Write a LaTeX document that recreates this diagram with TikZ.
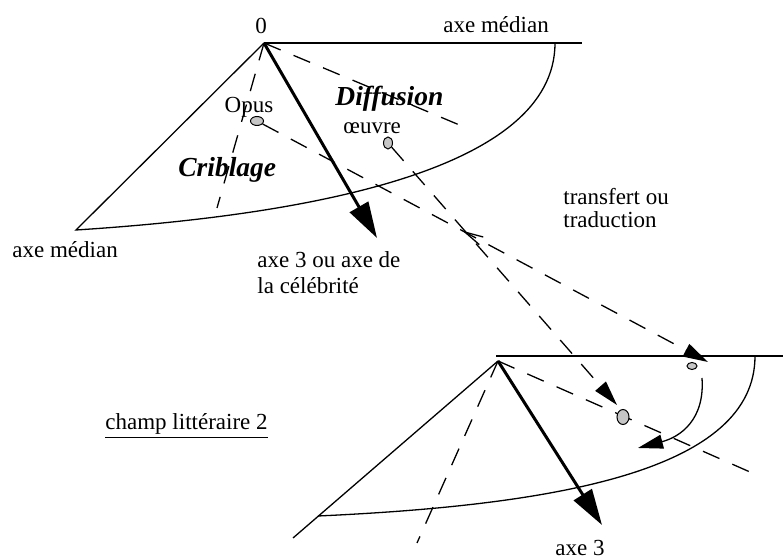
\documentclass[tikz,border=0pt]{standalone}
\usepackage{fontspec}
\setmainfont{Liberation Serif}
\usetikzlibrary{arrows.meta, shapes.geometric, calc}

\begin{document}
\begin{tikzpicture}[
  x=0.5pt, y=-0.5pt,
  font=\fontsize{11.5}{13}\selectfont,
  trait/.style={draw=black, line width=0.65pt},
  pointille/.style={draw=black, line width=0.65pt, dash pattern=on 9pt off 7pt},
  axe/.style={draw=black, line width=1.5pt, -{Triangle[length=18pt, width=10.5pt]}},
  transfert/.style={pointille, -{Triangle[length=12.5pt, width=7pt]}},
  point/.style={ellipse, draw=black, fill=gray!45, line width=0.5pt, inner sep=0pt},
  etiquette/.style={inner sep=0pt, anchor=base west},
  force/.style={inner sep=0pt, anchor=base west, font=\fontsize{13.75}{16}\selectfont\bfseries\itshape}
]
\useasboundingbox (0,0) rectangle (783,560);

%--------------------------------------------------------------
% Champ littéraire 1
%--------------------------------------------------------------
\coordinate (O1) at (264,43);
\coordinate (med1) at (582,43);
\coordinate (arc1) at (555,43);
\coordinate (gauche1) at (76,230);
\coordinate (cel1) at (377,238);
\coordinate (crib1) at (217,208);
\coordinate (diff1) at (469,129);

\draw[trait] (O1) -- (med1);
\draw[trait] (arc1) .. controls (555,170) and (310,215) .. (gauche1) -- (O1);
\draw[pointille] (O1) -- (crib1);
\draw[pointille] (O1) -- (diff1);
\draw[axe] (O1) -- (cel1);

\node[point, minimum width=6.5pt, minimum height=4.5pt] (opus) at (257,121) {};
\node[point, minimum width=4.5pt, minimum height=6pt] (oeuvre) at (388,143) {};

\node[inner sep=0pt, anchor=base] (zero) at (261,34) {0};
\node[etiquette] (medianH) at (443,33) {axe médian};
\node[etiquette] (medianG) at (12,258) {axe médian};
\node[inner sep=0pt, anchor=base] (lopus) at (249,113) {Opus};
\node[etiquette] (loeuvre) at (343,134) {œuvre};
\node[force] (diffusion) at (335,106) {Diffusion};
\node[force] (criblage) at (178,177) {Criblage};
\node[etiquette] (axe3a) at (257,268) {axe 3 ou axe de};
\node[etiquette] (axe3b) at (257,294) {la célébrité};

%--------------------------------------------------------------
% Champ littéraire 2
%--------------------------------------------------------------
\coordinate (O2) at (498,361);
\coordinate (debut2) at (496,356);
\coordinate (med2) at (783,356);
\coordinate (arc2) at (755,356);
\coordinate (gauche2) at (318,516);
\coordinate (bout2) at (293,538);
\coordinate (cel2) at (602,525);
\coordinate (crib2) at (417,543);
\coordinate (diff2) at (750,472);

\draw[trait] (debut2) -- (med2);
\draw[trait] (arc2) .. controls (755,470) and (560,505) .. (gauche2);
\draw[trait] (bout2) -- (O2);
\draw[pointille] (O2) -- (crib2);
\draw[pointille] (O2) -- (diff2);
\draw[axe] (O2) -- (cel2);

\node[point, minimum width=5pt, minimum height=3.5pt] (opus2) at (692,366) {};
\node[point, minimum width=6pt, minimum height=7.5pt] (oeuvre2) at (623,417) {};

% déplacement dans le champ 2
\coordinate (dep1) at (702,378);
\coordinate (dep2) at (638,448);
\draw[trait, -{Triangle[length=12.5pt, width=7pt]}] (dep1) .. controls (705,420) and (680,437) .. (dep2);

\node[etiquette] (champ2) at (105,430) {\underline{champ littéraire 2}};
\node[inner sep=0pt, anchor=base] (axe3) at (580,556) {axe 3};

%--------------------------------------------------------------
% Transfert ou traduction
%--------------------------------------------------------------
\coordinate (tA) at (708,362);
\coordinate (tB) at (617,405);
\draw[transfert] (opus) -- (tA);
\draw[transfert] (oeuvre) -- (tB);
\coordinate (retour) at ($(opus)!0.461!(tA)$);
\draw[trait] ($(retour)+(15:19)$) -- (retour) -- ($(retour)+(41:19)$);

\node[etiquette] (transf) at (563,205) {transfert ou};
\node[etiquette] (trad) at (563,228) {traduction};

\end{tikzpicture}
\end{document}
